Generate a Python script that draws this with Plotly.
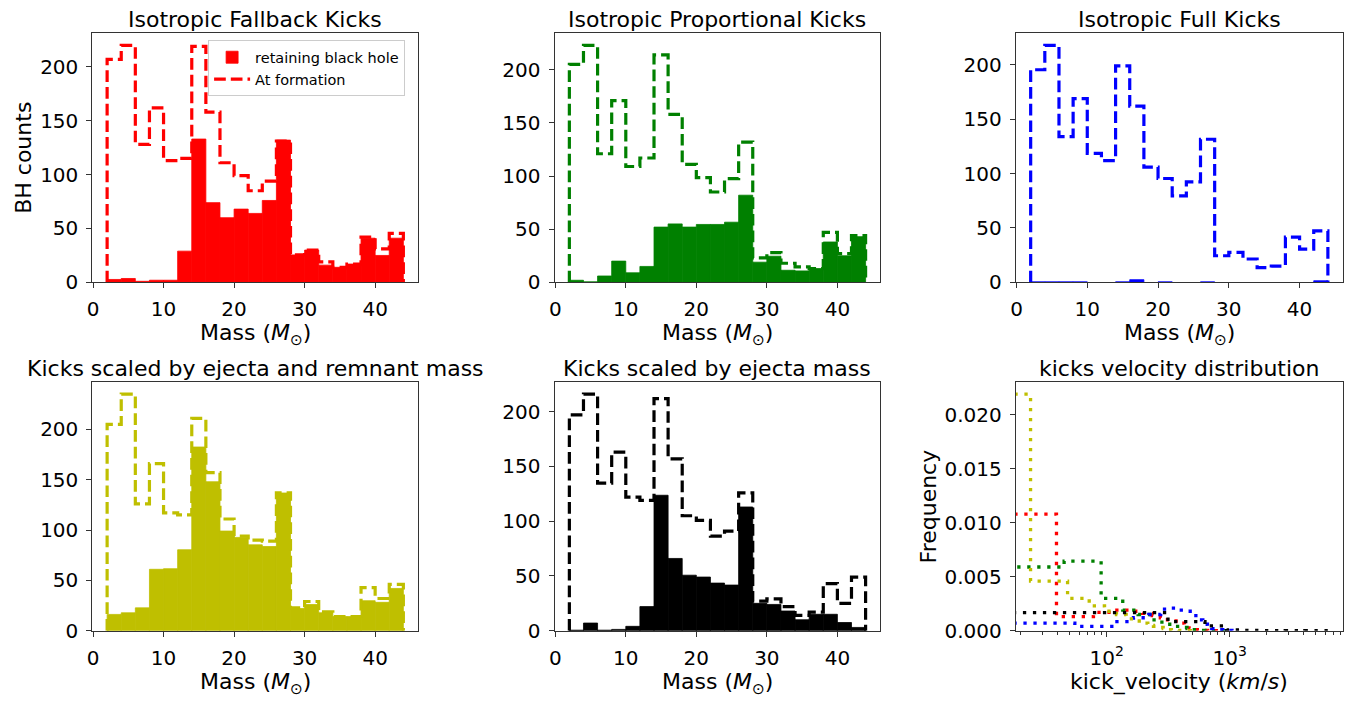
import numpy as np
import plotly.graph_objects as go
from plotly.subplots import make_subplots

# ---------------- data ----------------
mass_edges = list(range(2, 46, 2))  # 21 bins of 2 Msun, from 2 to 44

fallback_formation = [207, 220, 128, 162, 113, 115, 219, 158, 111, 99, 85, 94, 131, 25.5, 30, 19, 14, 17, 42, 31, 45.5]
fallback_retained = [2.7, 3.6, 1, 2, 2, 29, 133, 74, 60, 68, 64, 76, 132, 25.5, 30, 16, 14, 17, 41, 25, 41]

proportional_formation = [205, 223, 121, 171, 109, 117, 214, 158, 111, 98.5, 85, 97.5, 132, 23, 28, 18, 14.5, 13, 47, 27, 44]
proportional_retained = [2, 0.5, 6, 20, 9, 15, 52, 55, 52, 54.5, 54.5, 56.6, 82, 19, 24.6, 11.4, 10.8, 13, 38, 25, 43]

full_formation = [195.5, 218, 134, 169, 118.7, 112, 199, 162, 106, 95.5, 79.5, 92.5, 131.6, 24.5, 27.5, 21.5, 13.5, 15, 41.6, 30.5, 47.3]
full_retained = [0.5, 0.5, 0.5, 0.5, 0, 0, 0.5, 2.5, 0, 0.5, 0, 0, 0.5, 0, 0, 0, 0, 0, 0, 0, 1.5]

ejrem_formation = [205, 235, 126, 166, 117, 115, 211, 157, 111, 94, 90, 89, 137, 22.7, 29, 18.8, 14, 14, 42.8, 32, 46]
ejrem_retained = [16.2, 17.8, 22.7, 61, 61.6, 80.4, 182.5, 148, 99, 92.7, 85.3, 83.6, 136.8, 22, 26, 17.8, 14, 14, 29.8, 28.2, 42]

ejecta_formation = [197, 216, 134.7, 163, 122, 119, 212, 157, 105, 100.7, 86.4, 91, 125.8, 27, 29, 22, 14, 17, 43, 25, 49]
ejecta_retained = [0.5, 7, 0.5, 1.2, 4, 22, 123.7, 66, 50.7, 49, 43.5, 41.7, 113, 25, 24, 18, 10, 15, 15, 7.5, 3]

# kick velocity distributions (density per bin); bin widths in km/s
kick_bin_width = {"fallback": 39, "proportional": 45, "full": 55, "ejrem": 24, "ejecta": 315}
kick_fallback = [0.0108, 0.0013, 0.0017, 0.0019, 0.0018, 0.0016, 0.0014, 0.0012, 0.0010, 0.0009,
                 0.0007, 0.00045, 0.0002, 0.0001, 0.00005, 0.00003, 0.00002, 0.00001, 0, 0.00001]
kick_proportional = [0.0059, 0.00645, 0.0030, 0.0019, 0.0015, 0.0010, 0.0008, 0.0006, 0.0004, 0.0003,
                     0.0002, 0.0001, 0.00005, 0.00003, 0.00002, 0.00001, 0.00001, 0, 0, 0.00001]
kick_full = [0.0007, 0.0004, 0.00085, 0.0012, 0.0015, 0.0020, 0.0021, 0.0019, 0.0018, 0.0014,
             0.0010, 0.0006, 0.0004, 0.0002, 0.00015, 0.0001, 0.00005, 0.00003, 0.00002, 0.00001]
kick_ejrem = [0.0219, 0.0046, 0.0030, 0.0023, 0.0018, 0.0015, 0.0011, 0.0009, 0.0007, 0.0005,
              0.0004, 0.0003, 0.0002, 0.0001, 0.00005, 0.00003, 0.00002, 0.00001, 0, 0.00001]
kick_ejecta = [0.00167, 0.00085, 0.00045, 0.00008, 0.00003, 0.00002, 0.00001, 0.00001, 0, 0.00001,
               0, 0, 0, 0.00001, 0, 0, 0, 0, 0, 0]

mass_ticks = [0, 10, 20, 30, 40]
count_ticks = [0, 50, 100, 150, 200]
freq_ticks = [0.0, 0.005, 0.010, 0.015, 0.020]

# ---------------- figure ----------------
W, H = 1353, 701
FONT = "DejaVu Sans"
FS = 22
colors = {"fallback": "#ff0000", "proportional": "#008000", "full": "#0000ff",
          "ejrem": "#bfbf00", "ejecta": "#000000"}

fig = make_subplots(rows=2, cols=3)

col_px = [(86.7, 414.0), (551.0, 878.3), (1014.3, 1342.7)]
row_px = [(34.0, 287.3), (389.0, 641.7)]
xlabel_offset = [36, 37]

def xdom(c):
    return [col_px[c][0] / W, col_px[c][1] / W]

def ydom(r):
    return [1 - row_px[r][1] / H, 1 - row_px[r][0] / H]

panels = [
    ("Isotropic Fallback Kicks", "fallback", fallback_formation, fallback_retained, 1, 1),
    ("Isotropic Proportional Kicks", "proportional", proportional_formation, proportional_retained, 1, 2),
    ("Isotropic Full Kicks", "full", full_formation, full_retained, 1, 3),
    ("Kicks scaled by ejecta and remnant mass", "ejrem", ejrem_formation, ejrem_retained, 2, 1),
    ("Kicks scaled by ejecta mass", "ejecta", ejecta_formation, ejecta_retained, 2, 2),
]

axis_common = dict(showline=True, mirror=True, linecolor="#333333", linewidth=1,
                   ticks="outside", ticklen=5, tickwidth=1, tickcolor="#333333",
                   showgrid=False, zeroline=False, ticklabelstandoff=4,
                   tickfont=dict(family=FONT, size=20, color="black"))

annotations = []

def add_text(text, xpx, ypx, size=FS, angle=0, yanchor="middle"):
    annotations.append(dict(text=text, x=xpx / W, y=1 - ypx / H, xref="paper", yref="paper",
                            showarrow=False, xanchor="center", yanchor=yanchor, textangle=angle,
                            font=dict(family=FONT, size=size, color="black")))

dash_style = "11.7px,5px"
dot_style = "3.3px,6.7px"

for i, (title, key, form, ret, r, c) in enumerate(panels):
    col = colors[key]
    edges = mass_edges
    centers = [(edges[k] + edges[k + 1]) / 2 for k in range(len(ret))]
    widths = [edges[k + 1] - edges[k] for k in range(len(ret))]
    ret_plot = [v if v > 0 else None for v in ret]
    fig.add_trace(go.Bar(x=centers, y=ret_plot, width=widths,
                         marker=dict(color=col, line=dict(width=0.8, color=col)),
                         name="retaining black hole", showlegend=(i == 0), legendgroup="a"),
                  row=r, col=c)
    xs = [edges[0]] + edges[:-1] + [edges[-1], edges[-1]]
    ys = [0] + form + [form[-1], 0]
    fig.add_trace(go.Scatter(x=xs, y=ys, mode="lines",
                             line=dict(color=col, width=3.2, dash=dash_style, shape="hv"),
                             name="At formation", showlegend=(i == 0), legendgroup="b"),
                  row=r, col=c)
    idx = (r - 1) * 3 + c
    xa = "xaxis" if idx == 1 else f"xaxis{idx}"
    ya = "yaxis" if idx == 1 else f"yaxis{idx}"
    ymax = max(max(form), max(ret)) * 1.05
    fig.update_layout({
        xa: dict(domain=xdom(c - 1), range=[-0.1, 46.1], tickmode="array", tickvals=mass_ticks, **axis_common),
        ya: dict(domain=ydom(r - 1), range=[0, ymax], tickmode="array", tickvals=count_ticks, **axis_common),
    })
    cx = (col_px[c - 1][0] + col_px[c - 1][1]) / 2
    add_text(title, cx, row_px[r - 1][0] - 14)
    add_text("Mass (<i>M</i><sub>⊙</sub>)", cx, row_px[r - 1][1] + xlabel_offset[r - 1], yanchor="top")

# kick velocity panel
kick_series = [("fallback", kick_fallback), ("proportional", kick_proportional), ("full", kick_full),
               ("ejrem", kick_ejrem), ("ejecta", kick_ejecta)]
kmax = 0
for key, dens in kick_series:
    w = kick_bin_width[key]
    edges = [max(k * w, 1) for k in range(len(dens) + 1)]
    xs = [edges[0]] + edges[:-1] + [edges[-1], edges[-1]]
    ys = [0] + dens + [dens[-1], 0]
    kmax = max(kmax, max(dens))
    fig.add_trace(go.Scatter(x=xs, y=ys, mode="lines", showlegend=False,
                             line=dict(color=colors[key], width=3.3, dash=dot_style, shape="hv")),
                  row=2, col=3)

minor_vals = [v * d for d in (10, 100, 1000) for v in range(2, 10)]
fig.update_layout(
    xaxis6=dict(domain=xdom(2), type="log", range=[np.log10(18.2), np.log10(8326)],
                tickmode="array", tickvals=[100, 1000], ticktext=["10<sup>2</sup>", "10<sup>3</sup>"],
                minor=dict(tickmode="array", tickvals=minor_vals, ticklen=3, tickwidth=1,
                           tickcolor="#333333", ticks="outside"),
                **axis_common),
    yaxis6=dict(domain=ydom(1), range=[0, kmax * 1.05], tickmode="array", tickvals=freq_ticks,
                tickformat=".3f", **axis_common),
)
cx6 = (col_px[2][0] + col_px[2][1]) / 2
add_text("kicks velocity distribution", cx6, row_px[1][0] - 14)
add_text("kick_velocity (<i>km</i>/<i>s</i>)", cx6, row_px[1][1] + xlabel_offset[1], yanchor="top")
add_text("BH counts", 18, (row_px[0][0] + row_px[0][1]) / 2, angle=-90)
add_text("Frequency", 927, (row_px[1][0] + row_px[1][1]) / 2, angle=-90)

fig.update_layout(
    width=W, height=H,
    margin=dict(l=0, r=0, t=0, b=0),
    paper_bgcolor="white", plot_bgcolor="white",
    barmode="overlay",
    font=dict(family=FONT, size=FS, color="black"),
    annotations=annotations,
    legend=dict(x=203 / W, y=1 - 41 / H, xanchor="left", yanchor="top",
                bgcolor="rgba(255,255,255,0.8)", bordercolor="#cccccc", borderwidth=1,
                font=dict(family=FONT, size=14.5, color="black"), tracegroupgap=0,
                itemwidth=36),
)

fig.write_html("out.html")
